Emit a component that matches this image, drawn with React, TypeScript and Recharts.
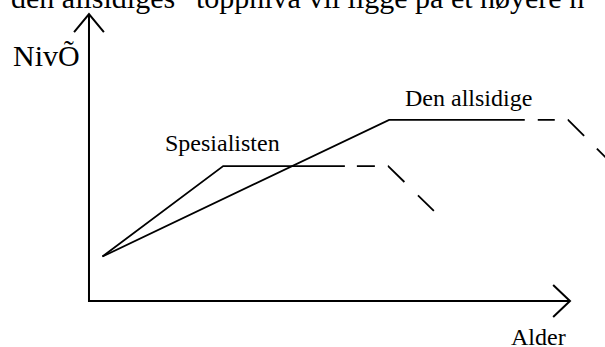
import { LineChart, Line, XAxis, YAxis } from "recharts";

// Skisse: nivå som funksjon av alder, spesialisten mot den allsidige.
// Aksene går fra 0 til 100 i begge retninger (vilkårlige enheter).

const akser = [
  { alder: 0, niva: 100 },
  { alder: 0, niva: 0 },
  { alder: 100, niva: 0 },
];
const pilY = [
  { alder: -3.1, niva: 93.7 },
  { alder: 0, niva: 100 },
  { alder: 3.1, niva: 93.7 },
];
const pilX = [
  { alder: 96.5, niva: 5.6 },
  { alder: 100, niva: 0 },
  { alder: 96.5, niva: -5.6 },
];

const spesialistenHel = [
  { alder: 2.8, niva: 15.5 },
  { alder: 27.9, niva: 47 },
  { alder: 53.2, niva: 47 },
];
const spesialistenStiplet = [
  { alder: 53.2, niva: 47 },
  { alder: 62.2, niva: 47 },
  { alder: 71.7, niva: 31.4 },
];

const allsidigHel = [
  { alder: 2.8, niva: 15.5 },
  { alder: 62.4, niva: 63.1 },
  { alder: 90.6, niva: 63.1 },
];
const allsidigStiplet = [
  { alder: 90.6, niva: 63.1 },
  { alder: 99.6, niva: 63.1 },
  { alder: 114.6, niva: 38 },
];

const topptekst = "den allsidiges\u201d toppnivå vil ligge på et høyere n";

const W = 605;
const H = 347;
const serif = '"Liberation Serif", "Times New Roman", serif';

export default function App() {
  const lineProps = {
    stroke: "#000",
    dot: false,
    activeDot: false,
    isAnimationActive: false,
    type: "linear" as const,
  };

  return (
    <div style={{ position: "absolute", left: 0, top: 0, width: W, height: H, background: "#fff" }}>
      <LineChart width={W} height={H} margin={{ top: 0, right: 0, bottom: 0, left: 0 }}>
        <XAxis
          dataKey="alder"
          type="number"
          domain={[-18.5, 107.28]}
          allowDataOverflow
          hide
          height={0}
        />
        <YAxis
          dataKey="niva"
          type="number"
          domain={[-16.03, 104.88]}
          allowDataOverflow
          hide
          width={0}
        />
        <Line {...lineProps} data={akser} dataKey="niva" strokeWidth={2} />
        <Line {...lineProps} data={pilY} dataKey="niva" strokeWidth={2} />
        <Line {...lineProps} data={pilX} dataKey="niva" strokeWidth={2} />
        <Line {...lineProps} data={spesialistenHel} dataKey="niva" strokeWidth={1.8} />
        <Line
          {...lineProps}
          data={spesialistenStiplet}
          dataKey="niva"
          strokeWidth={1.8}
          strokeDasharray="0 12 18 13 23 19 23 200"
        />
        <Line {...lineProps} data={allsidigHel} dataKey="niva" strokeWidth={1.8} />
        <Line
          {...lineProps}
          data={allsidigStiplet}
          dataKey="niva"
          strokeWidth={1.8}
          strokeDasharray="0 13 17 13 23 18 23 200"
        />
      </LineChart>

      <svg
        width={W}
        height={H}
        style={{ position: "absolute", left: 0, top: 0, pointerEvents: "none" }}
      >
        <g fontFamily={serif} fill="#000">
          <text x={11} y={8} fontSize={30}>{topptekst}</text>
          <text x={13} y={66} fontSize={30}>NivÕ</text>
          <text x={165} y={151} fontSize={24}>Spesialisten</text>
          <text x={405} y={106} fontSize={24}>Den allsidige</text>
          <text x={511} y={345} fontSize={24}>Alder</text>
        </g>
      </svg>
    </div>
  );
}
